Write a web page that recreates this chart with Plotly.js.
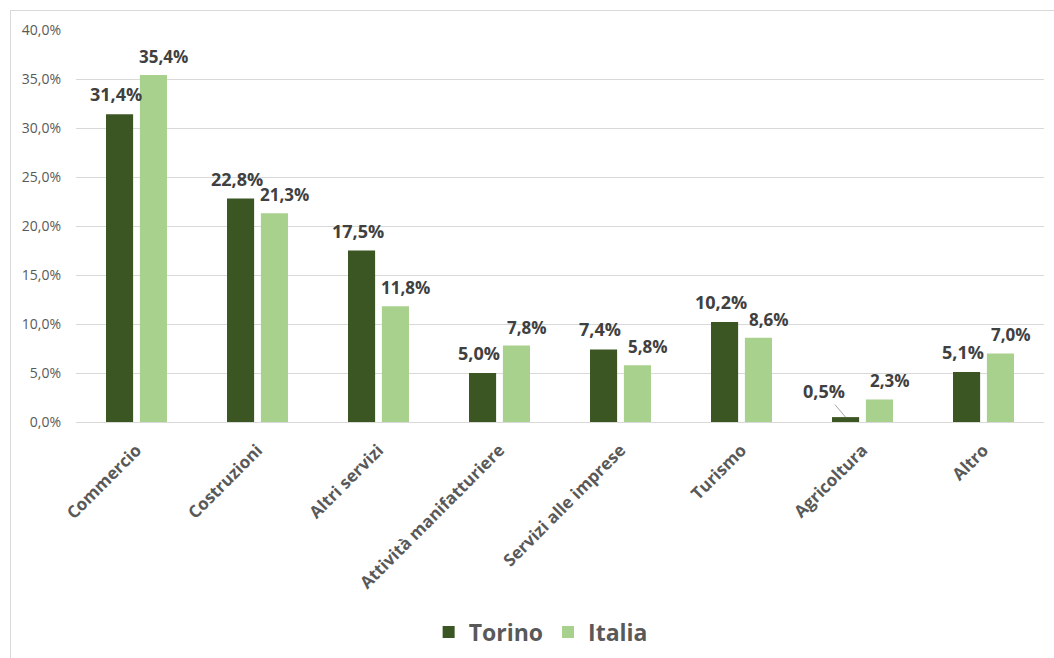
<!DOCTYPE html>
<html>
<head>
<meta charset="utf-8">
<script src="https://cdn.plot.ly/plotly-3.0.1.min.js"></script>
<style>
  html, body { margin: 0; padding: 0; background: #fff; }
  #wrap { position: relative; width: 1054px; height: 658px; }
  #chart { width: 1054px; height: 658px; }
  #frame { position: absolute; left: 10px; top: 10px; width: 1050px; height: 650px;
           border: 1px solid #d9d9d9; pointer-events: none; box-sizing: border-box; }
</style>
</head>
<body>
<div id="wrap">
  <div id="chart"></div>
  <div id="frame"></div>
</div>
<script>
const categories = ["Commercio", "Costruzioni", "Altri servizi", "Attività manifatturiere",
                    "Servizi alle imprese", "Turismo", "Agricoltura", "Altro"];
const torino = [0.314, 0.228, 0.175, 0.050, 0.074, 0.102, 0.005, 0.051];
const italia = [0.354, 0.213, 0.118, 0.078, 0.058, 0.086, 0.023, 0.070];
const seriesNames = ["Torino", "Italia"];
const yTicks = [0, 0.05, 0.10, 0.15, 0.20, 0.25, 0.30, 0.35, 0.40];

const colTorino = "#3b5623";
const colItalia = "#a9d18e";
const FONT = "Open Sans, Noto Sans, Liberation Sans, sans-serif";

function fmt(v) { return (v * 100).toFixed(1).replace(".", ",") + "%"; }

const traces = [
  { type: "bar", name: seriesNames[0], x: categories, y: torino,
    marker: { color: colTorino }, hoverinfo: "skip" },
  { type: "bar", name: seriesNames[1], x: categories, y: italia,
    marker: { color: colItalia }, hoverinfo: "skip" }
];

const annotations = [];
const barOff = 17;
torino.forEach((v, i) => {
  if (v < 0.01) {
    annotations.push({
      x: categories[i], y: v, xref: "x", yref: "y",
      xshift: -barOff, text: fmt(v), showarrow: true,
      arrowhead: 0, arrowwidth: 1, arrowcolor: "#a6a6a6",
      ax: -22, ay: -26, standoff: 0,
      font: { family: FONT, size: 18, color: "#404040", weight: "bold" }
    });
  } else {
    annotations.push({
      x: categories[i], y: v, xref: "x", yref: "y",
      xshift: -barOff - 4, yshift: 6, yanchor: "bottom",
      text: fmt(v), showarrow: false,
      font: { family: FONT, size: 18, color: "#404040", weight: "bold" }
    });
  }
});
italia.forEach((v, i) => {
  annotations.push({
    x: categories[i], y: v, xref: "x", yref: "y",
    xshift: barOff + 10, yshift: 5, yanchor: "bottom",
    text: fmt(v), showarrow: false,
    font: { family: FONT, size: 17, color: "#404040", weight: "bold" }
  });
});

const layout = {
  width: 1054, height: 658,
  margin: { l: 76, r: 10, t: 30, b: 236, autoexpand: false },
  paper_bgcolor: "#ffffff", plot_bgcolor: "#ffffff",
  separators: ",.",
  barmode: "group", bargap: 0.44, bargroupgap: 0.2,
  showlegend: true,
  legend: { orientation: "h", x: 0.48, xanchor: "center", y: -0.536, yanchor: "middle",
            font: { family: FONT, size: 23, color: "#595959", weight: "bold" },
            itemclick: false, itemdoubleclick: false },
  xaxis: {
    type: "category", tickangle: -45, showgrid: false, showline: false, zeroline: false,
    automargin: false,
    ticks: "", ticklabelstandoff: 14,
    tickfont: { family: FONT, size: 17, color: "#595959", weight: "bold" }
  },
  yaxis: {
    range: [0, 0.40], tickvals: yTicks, tickformat: ".1%", automargin: false,
    showgrid: true, gridcolor: "#d9d9d9", gridwidth: 1,
    zeroline: true, zerolinecolor: "#d9d9d9", zerolinewidth: 1,
    showline: false, ticks: "", ticklabelstandoff: 14,
    tickfont: { family: FONT, size: 14, color: "#595959" }
  },
  annotations: annotations
};

Plotly.newPlot("chart", traces, layout, { displayModeBar: false, staticPlot: true });
</script>
</body>
</html>
